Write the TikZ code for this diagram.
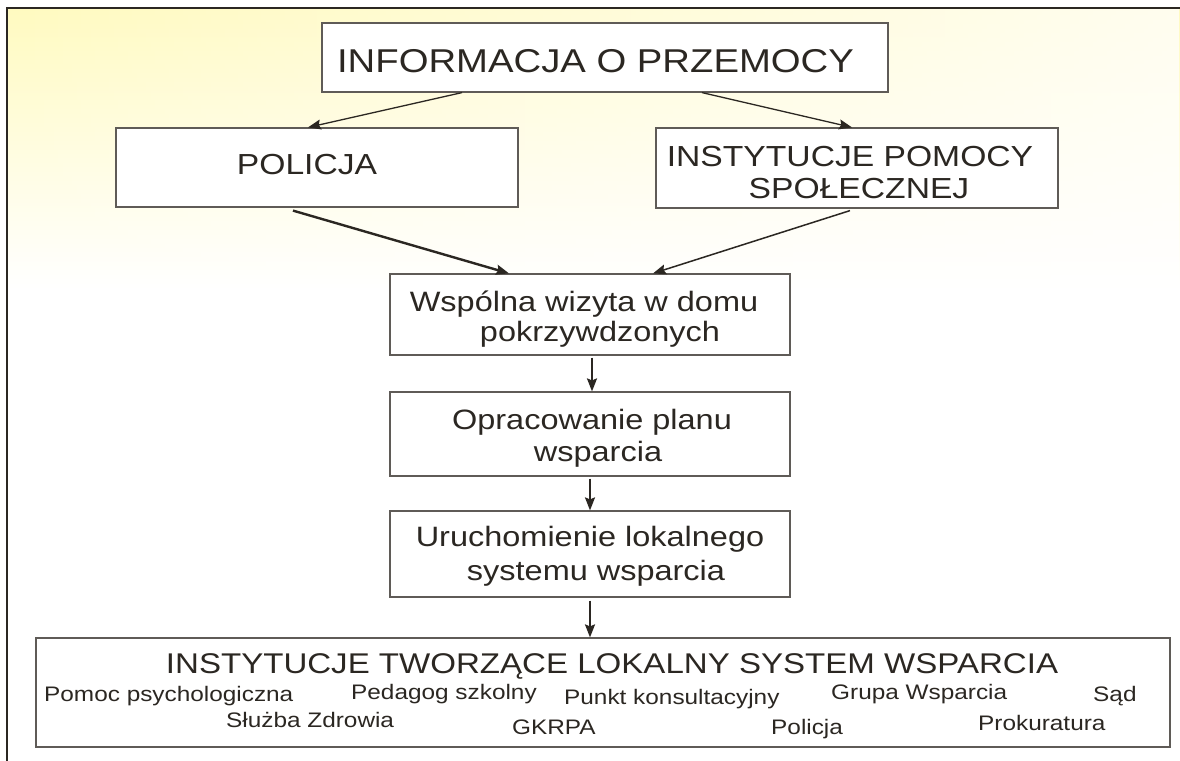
\documentclass[tikz,border=0pt]{standalone}
\usepackage{fontspec}
\setmainfont{Liberation Sans}[FakeStretch=1.16]
\usetikzlibrary{arrows.meta,fadings}
\definecolor{ink}{HTML}{2B2722}
\definecolor{bord}{HTML}{5F5B57}
\definecolor{ylw}{HTML}{FFFAC0}
\begin{document}
\begin{tikzpicture}[x=1pt,y=-1pt,
  box/.style={draw=bord, line width=1.2pt, fill=white, inner sep=0pt},
  txt/.style={text=ink, inner sep=0pt, anchor=base},
  big/.style={font=\fontsize{33}{38}\selectfont},
  mid/.style={font=\fontsize{29}{34}\selectfont},
  med/.style={font=\fontsize{28}{32}\selectfont},
  ttl/.style={font=\fontsize{28.5}{33}\selectfont},
  sml/.style={font=\fontsize{21}{25}\selectfont},
  arr/.style={draw=ink, line width=1.4pt, -{Stealth[length=13pt,width=10pt,inset=2pt]}}]
\useasboundingbox (0,0) rectangle (1180,760);
\clip (0,0) rectangle (1180,760);
\fill[white] (0,0) rectangle (1180,760);
% background
\shade[top color=ylw, bottom color=white] (7,8) rectangle (1180,290);
\fill[white, path fading=west, fill opacity=0.75] (7,8) rectangle (1180,290);
\draw[ink, line width=1.3pt] (7,775) -- (7,8) -- (1195,8);

% boxes
\node[box, minimum width=566pt, minimum height=69pt] (info) at (605,57.5) {};
\node[box, minimum width=402pt, minimum height=79pt] (policja) at (317,167.5) {};
\node[box, minimum width=402pt, minimum height=80pt] (inst) at (857,168) {};
\node[box, minimum width=400pt, minimum height=81pt] (wsp) at (590,314.5) {};
\node[box, minimum width=400pt, minimum height=84pt] (opr) at (590,434) {};
\node[box, minimum width=400pt, minimum height=86pt] (uru) at (590,554) {};
\node[box, minimum width=1134pt, minimum height=109pt] (inl) at (603,692.5) {};

% texts
\node[txt,big] (infot) at (595.5,73) {INFORMACJA O PRZEMOCY};
\node[txt,mid] (policjat) at (307,174) {POLICJA};
\node[txt,mid] (inst1) at (850,166) {INSTYTUCJE POMOCY};
\node[txt,mid] (inst2) at (859,198) {SPOŁECZNEJ};
\node[txt,med] (wsp1) at (584,311) {Wspólna wizyta w domu};
\node[txt,med] (wsp2) at (600,341) {pokrzywdzonych};
\node[txt,med] (opr1) at (592,429) {Opracowanie planu};
\node[txt,med] (opr2) at (598,461) {wsparcia};
\node[txt,med] (uru1) at (590,546) {Uruchomienie lokalnego};
\node[txt,med] (uru2) at (596,580) {systemu wsparcia};
\node[txt,ttl] (inlt) at (612,673) {INSTYTUCJE TWORZĄCE LOKALNY SYSTEM WSPARCIA};
\node[txt,sml,anchor=base west] (i1) at (44,701) {Pomoc psychologiczna};
\node[txt,sml,anchor=base west] (i2) at (351,699) {Pedagog szkolny};
\node[txt,sml,anchor=base west] (i3) at (564,704) {Punkt konsultacyjny};
\node[txt,sml,anchor=base west] (i4) at (831,699) {Grupa Wsparcia};
\node[txt,sml,anchor=base west] (i5) at (1093,701) {Sąd};
\node[txt,sml,anchor=base west] (i6) at (226,727) {Służba Zdrowia};
\node[txt,sml,anchor=base west] (i7) at (512,734) {GKRPA};
\node[txt,sml,anchor=base west] (i8) at (771,734) {Policja};
\node[txt,sml,anchor=base west] (i9) at (978,730) {Prokuratura};

% connectors
\draw[arr, line width=1.3pt] ([xshift=-143pt]info.south) -- ([xshift=-9pt]policja.north);
\draw[arr, line width=1.3pt] ([xshift=97pt]info.south) -- ([xshift=-5pt]inst.north);
\draw[arr, line width=2.4pt] ([xshift=-24pt,yshift=-3pt]policja.south) -- ([xshift=-81pt]wsp.north);
\draw[arr, line width=1.5pt] ([xshift=-7pt,yshift=-2pt]inst.south) -- ([xshift=63pt]wsp.north);
\draw[arr, line width=2pt] ([xshift=2pt,yshift=-2pt]wsp.south) -- ([xshift=2pt]opr.north);
\draw[arr, line width=1.8pt] ([yshift=-2pt]opr.south) -- (uru.north);
\draw[arr, line width=2pt] ([yshift=-3pt]uru.south) -- (inl.north -| uru.south);
\end{tikzpicture}
\end{document}
